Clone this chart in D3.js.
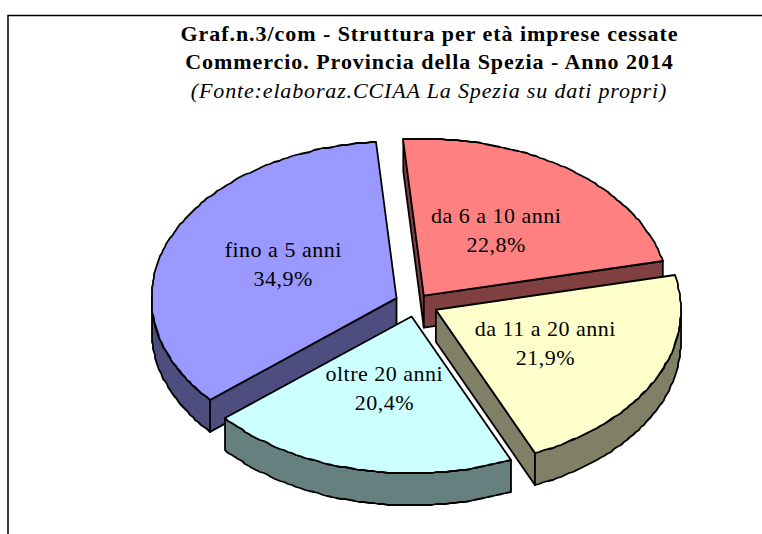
<!DOCTYPE html>
<html>
<head>
<meta charset="utf-8">
<script src="https://d3js.org/d3.v7.min.js"></script>
<title>Struttura per età imprese cessate</title>
<style>
  html, body { margin: 0; padding: 0; background: #fff; }
  svg { display: block; }
  text { font-family: "Liberation Serif", serif; fill: #000; }
</style>
</head>
<body>
<svg width="762" height="534"></svg>
<script>
  var categories = ['da 6 a 10 anni', 'da 11 a 20 anni', 'oltre 20 anni', 'fino a 5 anni'];
  var values = [22.8, 21.9, 20.4, 34.9];
  var colors = ['#ff8080', '#ffffcc', '#ccffff', '#9999ff'];
  var sideColors = ['#804040', '#808066', '#668080', '#4d4d80'];
  var titleLines = [
    'Graf.n.3/com - Struttura per età imprese cessate',
    'Commercio. Provincia della Spezia - Anno 2014'
  ];
  var sourceLine = '(Fonte:elaboraz.CCIAA La Spezia su dati propri)';

  var svg = d3.select('svg');
  var w = 762;
  var h = 534;

  var cx = 415;
  var cy = 304;
  var rx = 245;
  var tilt = 0.64;
  var depth = 32;
  var explode = 20;

  // small per slice corrections of the explosion, by eye
  var nudgeX = [-3, 3, 1, 0];
  var nudgeY = [2, 0, 0, -1];
  var labelShift = [0, 0, -3, -2];

  var fill = d3.scaleOrdinal().domain(categories).range(colors);
  var sideFill = d3.scaleOrdinal().domain(categories).range(sideColors);

  // frame of the sheet, open on the right
  svg.append('path')
    .attr('d', `M8,${h} V15.5 H${w}`)
    .attr('fill', 'none')
    .attr('stroke', '#000')
    .attr('stroke-width', 1.5);

  var pie = d3.pie()
    .sort(null)
    .value(d => d.value)
    .startAngle(-4.8 * Math.PI / 180)
    .endAngle(355.2 * Math.PI / 180);

  var slices = pie(categories.map((c, i) => ({ name: c, value: values[i] })));

  // project a point of the flat pie on the tilted plane
  function project(a, r, drop, s) {
    var mid = (s.startAngle + s.endAngle) / 2;
    return [
      cx + nudgeX[s.index] + explode * Math.sin(mid) + r * Math.sin(a),
      cy + nudgeY[s.index] - explode * tilt * Math.cos(mid) - r * tilt * Math.cos(a) + drop
    ];
  }

  function arcAngles(a0, a1) {
    var n = Math.max(2, Math.ceil((a1 - a0) / 0.02));
    return d3.range(n + 1).map(i => a0 + (a1 - a0) * i / n);
  }

  // the curved edges of the original are stepped, so snap them to whole pixels
  var line = d3.line();
  function snap(p) { return [Math.round(p[0]), Math.round(p[1])]; }

  function topPath(s) {
    var pts = [project(0, 0, 0, s)];
    arcAngles(s.startAngle, s.endAngle).forEach(a => pts.push(snap(project(a, rx, 0, s))));
    return line(pts) + 'Z';
  }

  function edgePath(s, a) {
    return line([
      project(a, 0, 0, s), project(a, rx, 0, s),
      project(a, rx, depth, s), project(a, 0, depth, s)
    ]) + 'Z';
  }

  function rimPath(s) {
    var a0 = Math.max(s.startAngle, Math.PI / 2);
    var a1 = Math.min(s.endAngle, 3 * Math.PI / 2);
    if (a1 <= a0) return null;
    var as = arcAngles(a0, a1);
    var pts = as.map(a => snap(project(a, rx, 0, s)))
      .concat(as.slice().reverse().map(a => snap(project(a, rx, depth, s))));
    return line(pts) + 'Z';
  }

  // back slices first, the front ones cover their sides
  var order = [0, 3, 1, 2];

  var groups = svg.selectAll('g.slice')
    .data(order.map(i => slices[i]))
    .enter().append('g')
    .attr('class', 'slice')
    .attr('stroke', '#000')
    .attr('stroke-width', 1.8)
    .attr('stroke-linejoin', 'round');

  groups.each(function(s) {
    var g = d3.select(this);
    var dark = sideFill(s.data.name);
    if (Math.sin(s.startAngle) < 0) g.append('path').attr('d', edgePath(s, s.startAngle)).attr('fill', dark);
    if (Math.sin(s.endAngle) > 0) g.append('path').attr('d', edgePath(s, s.endAngle)).attr('fill', dark);
    var rim = rimPath(s);
    if (rim) g.append('path').attr('d', rim).attr('fill', dark);
    g.append('path').attr('d', topPath(s)).attr('fill', fill(s.data.name));
  });

  // labels sit half way along the radius
  var labels = svg.selectAll('g.label')
    .data(slices)
    .enter().append('g')
    .attr('class', 'label')
    .attr('transform', s => {
      var mid = (s.startAngle + s.endAngle) / 2;
      var p = project(mid, rx / 2, 0, s);
      return `translate(${p[0]},${p[1] + labelShift[s.index]})`;
    })
    .style('text-anchor', 'middle')
    .style('font-size', '22px')
    .style('letter-spacing', '0.5px');

  labels.append('text')
    .attr('y', -9)
    .text(s => s.data.name);

  labels.append('text')
    .attr('y', 20)
    .text(s => s.data.value.toFixed(1).replace('.', ',') + '%');

  svg.selectAll('text.title')
    .data(titleLines)
    .enter().append('text')
    .attr('class', 'title')
    .attr('x', 429.5)
    .attr('y', (d, i) => 41 + i * 28)
    .style('text-anchor', 'middle')
    .style('font-size', '22px')
    .style('font-weight', 'bold')
    .style('letter-spacing', '0.95px')
    .text(d => d);

  svg.append('text')
    .attr('x', 429)
    .attr('y', 98)
    .style('text-anchor', 'middle')
    .style('font-size', '22px')
    .style('font-style', 'italic')
    .style('letter-spacing', '0.85px')
    .text(sourceLine);
</script>
</body>
</html>
